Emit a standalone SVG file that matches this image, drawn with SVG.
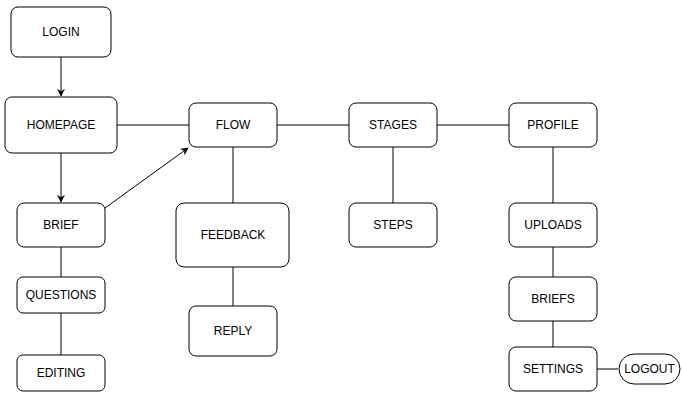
<svg xmlns="http://www.w3.org/2000/svg" width="682" height="395" viewBox="0 0 682 395">
<style>
.n{fill:#fff;stroke:#000;stroke-width:1}
.t{font-family:"Liberation Sans",Arial,sans-serif;font-size:12px;fill:#000;text-anchor:middle;dominant-baseline:central}
.c{fill:none;stroke:#000;stroke-width:1}
</style>
<defs>
<marker id="a" viewBox="0 0 10 10" refX="9" refY="5" markerWidth="8" markerHeight="8" markerUnits="userSpaceOnUse" orient="auto">
<path d="M0,0 L10,5 L0,10 L3,5 Z" fill="#000"/>
</marker>
</defs>
<rect width="682" height="395" fill="#fff"/>
<g id="connectors">
<line class="c" x1="61" y1="57" x2="61" y2="96" marker-end="url(#a)"/>
<line class="c" x1="61" y1="153" x2="61" y2="202" marker-end="url(#a)"/>
<line class="c" x1="105" y1="208" x2="188" y2="148" marker-end="url(#a)"/>
<line class="c" x1="117" y1="125" x2="189" y2="125"/>
<line class="c" x1="277" y1="125" x2="349" y2="125"/>
<line class="c" x1="437" y1="125" x2="509" y2="125"/>
<line class="c" x1="233" y1="147" x2="233" y2="203"/>
<line class="c" x1="233" y1="267" x2="233" y2="306"/>
<line class="c" x1="393" y1="147" x2="393" y2="203"/>
<line class="c" x1="553" y1="147" x2="553" y2="203"/>
<line class="c" x1="553" y1="247" x2="553" y2="277"/>
<line class="c" x1="553" y1="321" x2="553" y2="347"/>
<line class="c" x1="597" y1="369" x2="618" y2="369"/>
<line class="c" x1="61" y1="247" x2="61" y2="277"/>
<line class="c" x1="61" y1="313" x2="61" y2="355"/>
</g>
<g id="login"><rect class="n" x="11" y="7" width="100" height="50" rx="7"/><text class="t" x="61" y="32">LOGIN</text></g>
<g id="homepage"><rect class="n" x="5" y="97" width="112" height="56" rx="7"/><text class="t" x="61" y="125">HOMEPAGE</text></g>
<g id="brief"><rect class="n" x="17" y="203" width="88" height="44" rx="7"/><text class="t" x="61" y="225">BRIEF</text></g>
<g id="questions"><rect class="n" x="17" y="277" width="88" height="36" rx="6"/><text class="t" x="61" y="295">QUESTIONS</text></g>
<g id="editing"><rect class="n" x="17" y="355" width="88" height="36" rx="6"/><text class="t" x="61" y="373">EDITING</text></g>
<g id="flow"><rect class="n" x="189" y="103" width="88" height="44" rx="7"/><text class="t" x="233" y="125">FLOW</text></g>
<g id="feedback"><rect class="n" x="176" y="203" width="113" height="64" rx="8"/><text class="t" x="233" y="235">FEEDBACK</text></g>
<g id="reply"><rect class="n" x="189" y="306" width="88" height="50" rx="7"/><text class="t" x="233" y="331">REPLY</text></g>
<g id="stages"><rect class="n" x="349" y="103" width="88" height="44" rx="7"/><text class="t" x="393" y="125">STAGES</text></g>
<g id="steps"><rect class="n" x="349" y="203" width="88" height="44" rx="7"/><text class="t" x="393" y="225">STEPS</text></g>
<g id="profile"><rect class="n" x="509" y="103" width="88" height="44" rx="7"/><text class="t" x="553" y="125">PROFILE</text></g>
<g id="uploads"><rect class="n" x="509" y="203" width="88" height="44" rx="7"/><text class="t" x="553" y="225">UPLOADS</text></g>
<g id="briefs"><rect class="n" x="509" y="277" width="88" height="44" rx="7"/><text class="t" x="553" y="299">BRIEFS</text></g>
<g id="settings"><rect class="n" x="509" y="347" width="88" height="44" rx="7"/><text class="t" x="553" y="369">SETTINGS</text></g>
<g id="logout"><rect class="n" x="619" y="354" width="61" height="30" rx="15"/><text class="t" x="649.5" y="369">LOGOUT</text></g>
</svg>
